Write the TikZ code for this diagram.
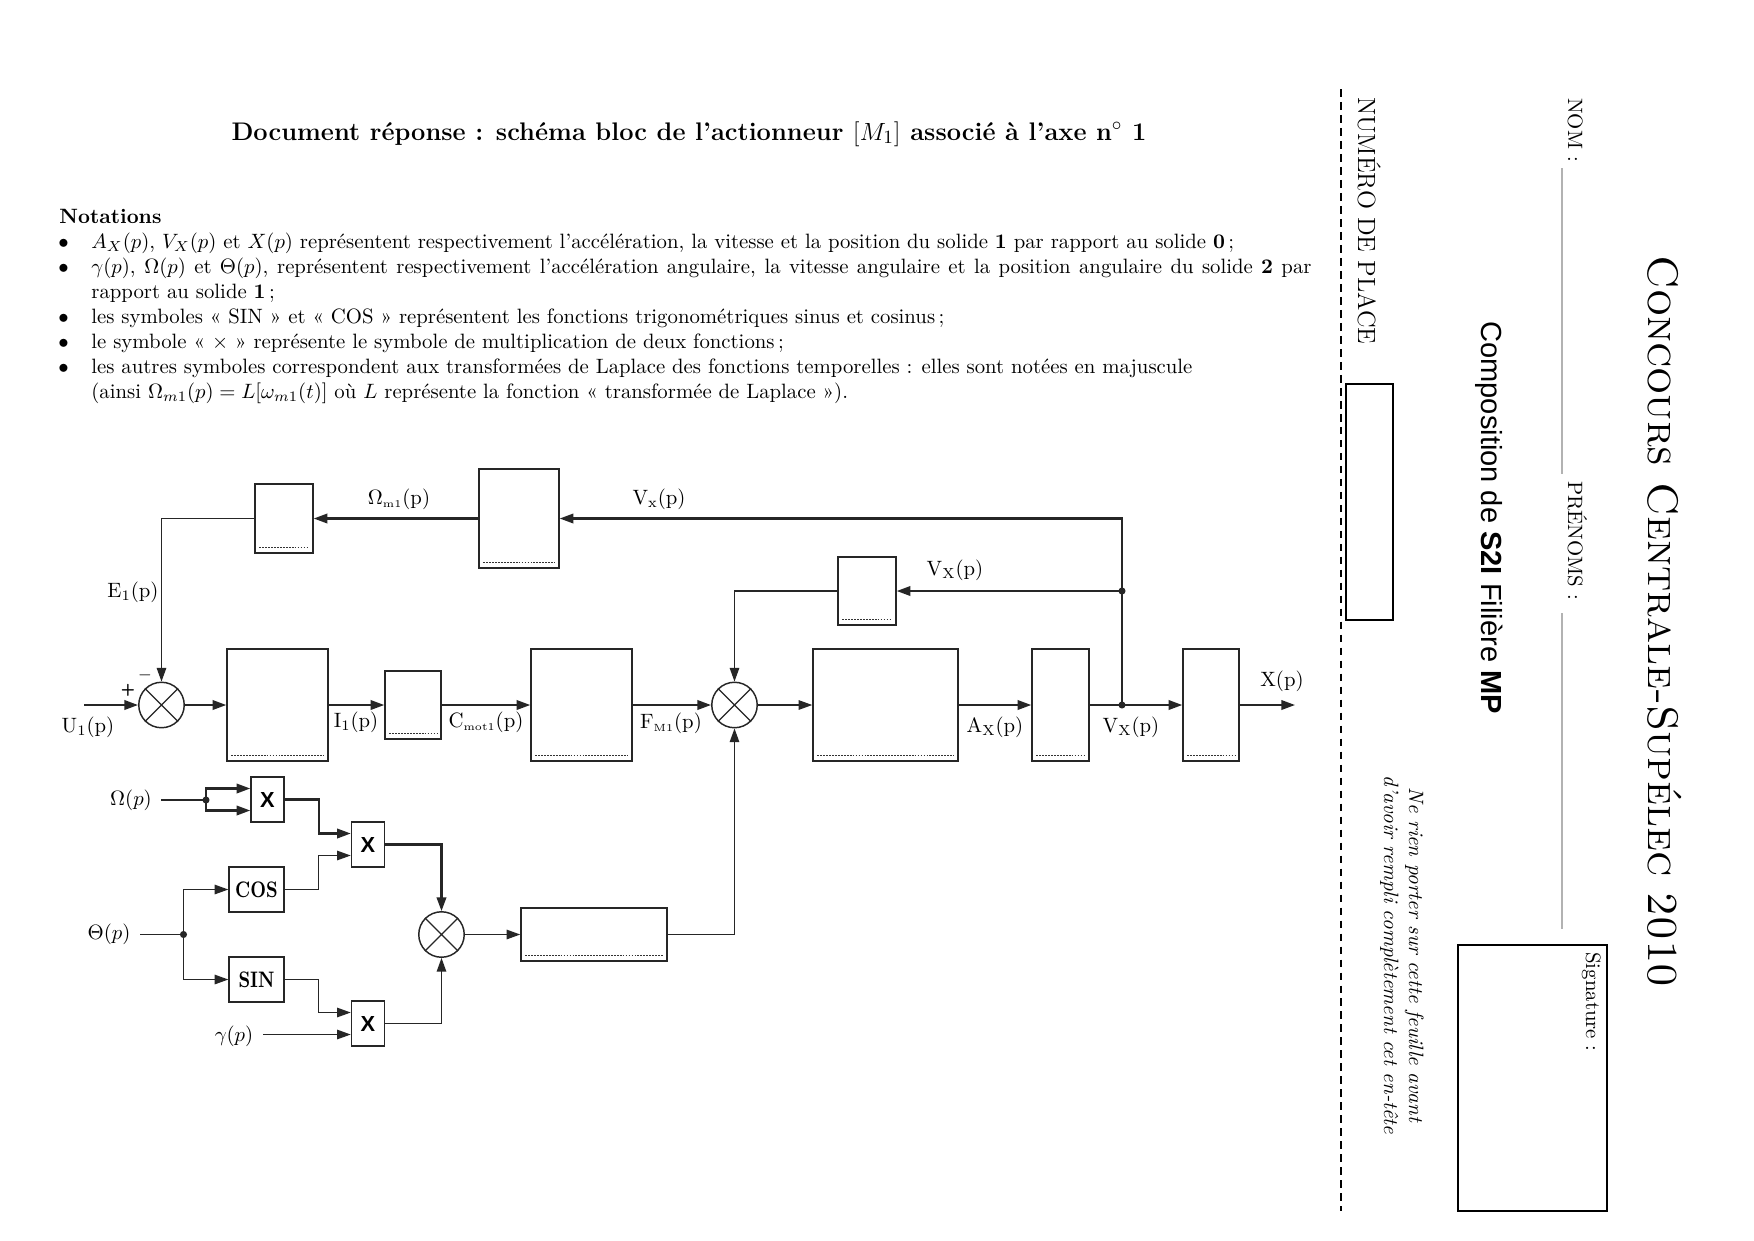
\documentclass[tikz,border=0pt]{standalone}
\usepackage{fontspec}
\newfontfamily\hdrsans{Liberation Sans}
\usetikzlibrary{arrows.meta,calc,fit}
\newcommand{\ssub}[1]{_{\scriptstyle\mathrm{#1}}}
\newcommand{\sssub}[1]{_{\scriptscriptstyle\mathrm{#1}}}
\begin{document}
\begin{tikzpicture}[x=0.169333mm,y=-0.169333mm,
  ln/.style={line width=1pt, draw=black!85},
  thin ln/.style={line width=0.6pt, draw=black!85},
  arr/.style={ln, -{Triangle[length=2.3mm,width=1.6mm]}},
  thin arr/.style={thin ln, -{Triangle[length=2.3mm,width=1.6mm]}},
  blk/.style={draw=black!85, line width=0.7pt, inner sep=0pt},
  dotl/.style={line width=0.35pt, draw=black!80, dash pattern=on 0.3mm off 0.2mm},
  summer/.style={circle, draw=black!85, line width=0.7pt, minimum size=7.7mm, inner sep=0pt},
  opbox/.style={blk},
  lbl/.style={inner sep=0pt, font=\normalsize},
  jdot/.style={circle, fill=black!85, inner sep=0pt, minimum size=1.2mm},
  txt/.style={inner sep=0pt, anchor=base west},
  rot/.style={inner sep=0pt, rotate=-90},
]
\fill[white] (0,0) rectangle (1754,1240);
\useasboundingbox (0,0) rectangle (1754,1240);

% ---------- title and notations ----------
\node[inner sep=0pt, anchor=base, font=\fontsize{12.25}{15}\selectfont\bfseries] (title) at (689,140)
  {Document réponse : schéma bloc de l'actionneur $[M_1]$ associé à l'axe n$^{\circ}$~1};
\node[txt, font=\bfseries] (nt) at (59,223) {Notations};
\node[txt] (b1) at (58,248) {$\bullet$};
\node[txt] (t1) at (91,248) {$A_X(p)$, $V_X(p)$ et $X(p)$ représentent respectivement l'accélération, la vitesse et la position du solide \textbf{1} par rapport au solide \textbf{0}\,;};
\node[txt] (b2) at (58,273) {$\bullet$};
\node[txt] (t2a) at (91,273) {\makebox[206.6mm][s]{$\gamma(p)$, $\Omega(p)$ et $\Theta(p)$, représentent respectivement l'accélération angulaire, la vitesse angulaire et la position angulaire du solide \textbf{2} par}};
\node[txt] (t2b) at (91,298) {rapport au solide \textbf{1}\,;};
\node[txt] (b3) at (58,323) {$\bullet$};
\node[txt] (t3) at (91,323) {les symboles « SIN » et « COS » représentent les fonctions trigonométriques sinus et cosinus\,;};
\node[txt] (b4) at (58,348) {$\bullet$};
\node[txt] (t4) at (91,348) {le symbole « $\times$ » représente le symbole de multiplication de deux fonctions\,;};
\node[txt] (b5) at (58,373) {$\bullet$};
\node[txt] (t5a) at (91,373) {les autres symboles correspondent aux transformées de Laplace des fonctions temporelles : elles sont notées en majuscule};
\node[txt] (t5b) at (91,398) {(ainsi $\Omega_{m1}(p)=L[\omega_{m1}(t)]$ où $L$ représente la fonction « transformée de Laplace »).};

% ---------- header (rotated) ----------
\draw[line width=0.5pt, dash pattern=on 1.3mm off 0.9mm] (1341,89) -- (1341,1211);
\node[rot, anchor=base west, font=\large] (numplace) at (1358,97) {NUMÉRO DE PLACE};
\node[draw, line width=0.5pt, inner sep=0pt, fit={(1346,384) (1393,620)}] (placebox) {};
\node[rot, anchor=base west, font=\fontsize{20.6}{24}\selectfont\scshape] (ccs) at (1648,255) {Concours Centrale-Supélec 2010};
\node[rot, anchor=base west] (nom) at (1568,98) {NOM :};
\draw[gray!60, line width=0.6pt] (1562,168) -- (1562,474);
\node[rot, anchor=base west] (prenoms) at (1568,481) {PRÉNOMS :};
\draw[gray!60, line width=0.6pt] (1562,613) -- (1562,929);
\node[rot, anchor=base west, font=\hdrsans\fontsize{14}{17}\selectfont] (compo) at (1481,321) {Composition de \textbf{S2I} Filière \textbf{MP}};
\node[draw, line width=0.5pt, inner sep=0pt, fit={(1458,945) (1607,1211)}] (sigbox) {};
\node[rot, anchor=base west] (sig) at (1586,952) {Signature :};
\node[rot, anchor=base, font=\itshape] (warn1) at (1409,955) {Ne rien porter sur cette feuille avant};
\node[rot, anchor=base, font=\itshape] (warn2) at (1384,955) {d'avoir rempli complètement cet en-tête};

% ---------- blocks ----------
\node[blk, fit={(255,484) (313,553)}] (E1b) {};
\node[blk, fit={(479,469) (559,568)}] (Om) {};
\node[blk, fit={(838,557) (896,625)}] (G) {};
\node[blk, fit={(227,649) (328,761)}] (A) {};
\node[blk, fit={(385,671) (441,739)}] (I1) {};
\node[blk, fit={(531,649) (632,761)}] (C) {};
\node[blk, fit={(813,649) (958,761)}] (D) {};
\node[blk, fit={(1032,649) (1089,761)}] (E) {};
\node[blk, fit={(1183,649) (1239,761)}] (F) {};
\node[blk, fit={(521,908) (667,961)}] (H) {};
\foreach \b in {E1b,Om,G,A,I1,C,D,E,F,H}
  \draw[dotl] ($(\b.south west)+(5,-6)$) -- ($(\b.south east)+(-5,-6)$);

\node[summer] (s1) at (161.5,705) {};
\node[summer] (s2) at (734.5,705) {};
\node[summer] (s3) at (441.5,934.5) {};
\foreach \s in {s1,s2,s3}
  \draw[thin ln] (\s.45) -- (\s.225) (\s.135) -- (\s.315);

\node[opbox, minimum width=5.6mm, minimum height=7.6mm, font=\hdrsans\bfseries\fontsize{10.5}{12}\selectfont] (X1) at (267.5,799.5) {X};
\node[opbox, minimum width=5.6mm, minimum height=7.6mm, font=\hdrsans\bfseries\fontsize{10.5}{12}\selectfont] (X2) at (368,844.5) {X};
\node[opbox, minimum width=5.6mm, minimum height=7.6mm, font=\hdrsans\bfseries\fontsize{10.5}{12}\selectfont] (X3) at (368,1023.5) {X};
\node[opbox, minimum width=9.3mm, minimum height=7.6mm] (COS) at (256.5,889.5) {\scalebox{0.95}[1.2]{\bfseries\small COS}};
\node[opbox, minimum width=9.3mm, minimum height=7.6mm] (SIN) at (256.5,979.5) {\scalebox{0.95}[1.2]{\bfseries\small SIN}};

% ---------- junctions and free ends ----------
\node[jdot] (j1) at (1122,705) {};
\node[jdot] (j2) at (1122,591) {};
\node[jdot] (d1) at (206,800) {};
\node[jdot] (d2) at (183.5,934.5) {};
\coordinate (u1in) at (84,705);
\coordinate (xout) at (1295,705);
\coordinate (omin) at (161,800);
\coordinate (thin) at (140,934.5);
\coordinate (gin) at (263,1034.5);
\coordinate (X1a) at ($(X1.west)+(0,-11)$);
\coordinate (X1b) at ($(X1.west)+(0,11)$);
\coordinate (X2a) at ($(X2.west)+(0,-11)$);
\coordinate (X2b) at ($(X2.west)+(0,11)$);
\coordinate (X3a) at ($(X3.west)+(0,-11)$);
\coordinate (X3b) at ($(X3.west)+(0,11)$);

% ---------- main chain ----------
\draw[arr] (u1in) -- (s1.west);
\draw[arr] (s1.east) -- (A.west);
\draw[arr] (A.east) -- (A.east -| I1.west);
\draw[arr] (I1.east) -- (I1.east -| C.west);
\draw[arr] (C.east) -- (s2.west);
\draw[thin arr] (s2.east) -- (D.west);
\draw[arr] (D.east) -- (D.east -| E.west);
\draw[ln] (E.east) -- (j1.center);
\draw[arr] (j1.center) -- (j1 -| F.west);
\draw[arr] (F.east) -- (xout);

% ---------- feedbacks ----------
\draw[ln] (j1.center) -- (j2.center);
\draw[arr] (j2.center) |- (Om.east);
\draw[arr] (Om.west) -- (Om.west -| E1b.east);
\draw[thin arr] (E1b.west) -| (s1.north);
\draw[arr] (j2.center) -- (j2 -| G.east);
\draw[thin arr] (G.west) -| (s2.north);

% ---------- lower part ----------
\draw[ln] (omin) -- (d1.center);
\draw[arr] (d1.center) |- (X1a);
\draw[arr] (d1.center) |- (X1b);
\draw[arr] (X1.east) -- ++(34,0) |- (X2a);
\draw[thin ln] (thin) -- (d2.center);
\draw[thin arr] (d2.center) |- (COS.west);
\draw[thin arr] (d2.center) |- (SIN.west);
\draw[thin arr] (COS.east) -- ++(34,0) |- (X2b);
\draw[thin arr] (SIN.east) -- ++(34,0) |- (X3a);
\draw[thin arr] (gin) -- (X3b);
\draw[arr] (X2.east) -| (s3.north);
\draw[thin arr] (X3.east) -| (s3.south);
\draw[thin arr] (s3.east) -- (H.west);
\draw[thin arr] (H.east) -| (s2.south);

% ---------- labels ----------
\node[lbl] (lU) at (88,727) {$\mathrm{U\ssub{1}(p)}$};
\node[lbl, font=\sffamily\bfseries\footnotesize] (lplus) at (128,690) {+};
\node[lbl, font=\footnotesize] (lminus) at (145,675) {$-$};
\node[lbl] (lE) at (133,592) {$\mathrm{E\ssub{1}(p)}$};
\node[lbl] (lOm) at (399,499) {$\Omega\sssub{m1}(\mathrm{p})$};
\node[lbl] (lVtop) at (659,499) {$\mathrm{V\ssub{x}(p)}$};
\node[lbl] (lI) at (356,722) {$\mathrm{I\ssub{1}(p)}$};
\node[lbl] (lC) at (486,722) {$\mathrm{C\sssub{mot1}(p)}$};
\node[lbl] (lF) at (671,723) {$\mathrm{F\sssub{M1}(p)}$};
\node[lbl] (lA) at (995,727) {$\mathrm{A\ssub{X}(p)}$};
\node[lbl] (lVb) at (1131,727) {$\mathrm{V\ssub{X}(p)}$};
\node[lbl] (lVm) at (955,570) {$\mathrm{V\ssub{X}(p)}$};
\node[lbl] (lX) at (1282,681) {$\mathrm{X(p)}$};
\node[lbl] (lOmega) at (131,800) {$\Omega(p)$};
\node[lbl] (lTheta) at (109,934) {$\Theta(p)$};
\node[lbl] (lgamma) at (234,1036) {$\gamma(p)$};
\end{tikzpicture}
\end{document}
